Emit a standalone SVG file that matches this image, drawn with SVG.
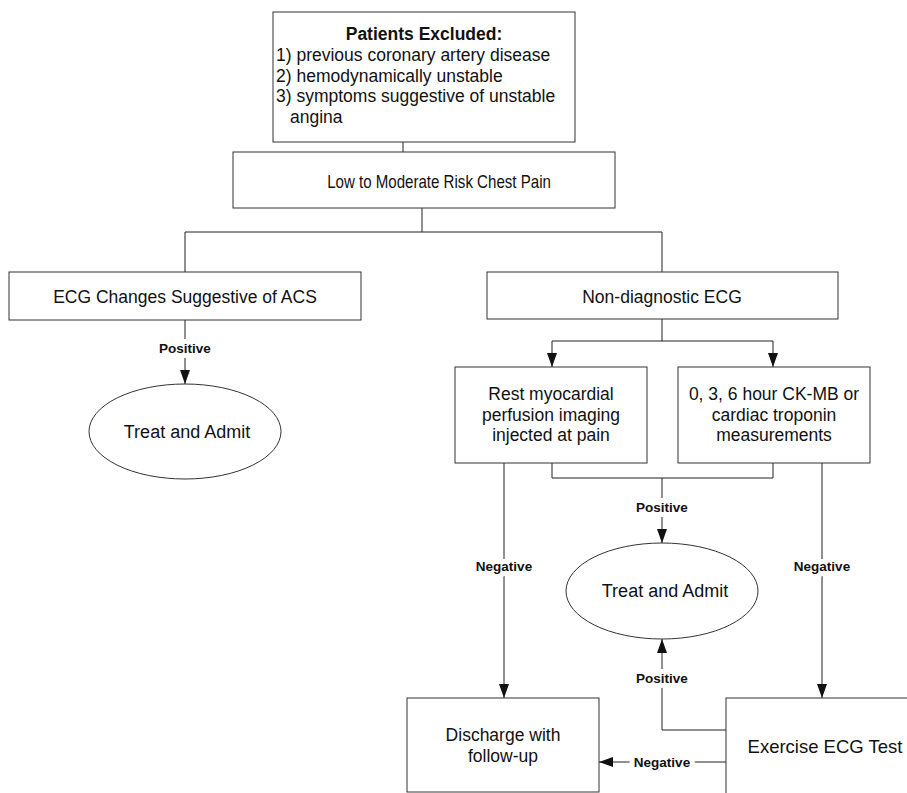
<svg xmlns="http://www.w3.org/2000/svg" width="907" height="793" viewBox="0 0 907 793">
<style>
.box{fill:#fff;stroke:#333;stroke-width:1}
.t{font-family:"Liberation Sans",Arial,sans-serif;font-size:17.5px;fill:#111;text-anchor:middle}
.l{text-anchor:start}
.lbl{font-family:"Liberation Sans",Arial,sans-serif;font-size:13.5px;font-weight:bold;fill:#111;text-anchor:middle;paint-order:stroke;stroke:#fff;stroke-width:10px;stroke-linejoin:round}
.c{fill:none;stroke:#222;stroke-width:1}
</style>
<defs>
<marker id="ah" viewBox="0 0 14 10" markerUnits="userSpaceOnUse" markerWidth="14" markerHeight="10" refX="14" refY="5" orient="auto">
<path d="M0,0 L14,5 L0,10 z" fill="#111"/>
</marker>
</defs>
<rect width="907" height="793" fill="#fff"/>
<g id="connectors">
<path class="c" d="M403,142 V152"/>
<path class="c" d="M422,208 V232"/>
<path class="c" d="M185,272 V232 H662 V272"/>
<path class="c" d="M185,320 V384" marker-end="url(#ah)"/>
<path class="c" d="M662,319 V341 H552 V367" marker-end="url(#ah)"/>
<path class="c" d="M662,341 H773 V367" marker-end="url(#ah)"/>
<path class="c" d="M552,463 V478 H773 V463"/>
<path class="c" d="M662,478 V543" marker-end="url(#ah)"/>
<path class="c" d="M504,463 V698" marker-end="url(#ah)"/>
<path class="c" d="M822,463 V698" marker-end="url(#ah)"/>
<path class="c" d="M726,730 H662 V639" marker-end="url(#ah)"/>
<path class="c" d="M726,762 H599" marker-end="url(#ah)"/>
<text class="lbl" x="185" y="353">Positive</text>
<text class="lbl" x="662" y="512">Positive</text>
<text class="lbl" x="504" y="571">Negative</text>
<text class="lbl" x="822" y="571">Negative</text>
<text class="lbl" x="662" y="683">Positive</text>
<text class="lbl" x="662" y="767">Negative</text>
</g>
<g id="excluded">
<rect class="box" x="273" y="12" width="302" height="130"/>
<text class="t" x="424" y="40" font-weight="bold">Patients Excluded:</text>
<text class="t l" x="276" y="61">1) previous coronary artery disease</text>
<text class="t l" x="276" y="81.5">2) hemodynamically unstable</text>
<text class="t l" x="276" y="102">3) symptoms suggestive of unstable</text>
<text class="t l" x="290" y="122.5">angina</text>
</g>
<g id="lowrisk">
<rect class="box" x="233" y="152" width="382" height="56"/>
<text class="t" x="0" y="0" transform="translate(439,188) scale(0.862,1)">Low to Moderate Risk Chest Pain</text>
</g>
<g id="ecgacs">
<rect class="box" x="9" y="272" width="352" height="48"/>
<text class="t" x="185" y="303">ECG Changes Suggestive of ACS</text>
</g>
<g id="nondiag">
<rect class="box" x="487" y="272" width="351" height="47"/>
<text class="t" x="662" y="303">Non-diagnostic ECG</text>
</g>
<g id="treat1">
<ellipse class="box" cx="185" cy="431.5" rx="96" ry="47.5"/>
<text class="t" x="187" y="438" style="font-size:18px">Treat and Admit</text>
</g>
<g id="rest">
<rect class="box" x="455" y="367" width="192" height="96"/>
<text class="t" x="551" y="400">Rest myocardial</text>
<text class="t" x="551" y="420.5">perfusion imaging</text>
<text class="t" x="551" y="441">injected at pain</text>
</g>
<g id="ckmb">
<rect class="box" x="678" y="367" width="192" height="96"/>
<text class="t" x="774" y="400">0, 3, 6 hour CK-MB or</text>
<text class="t" x="774" y="420.5">cardiac troponin</text>
<text class="t" x="774" y="441">measurements</text>
</g>
<g id="treat2">
<ellipse class="box" cx="662" cy="591" rx="96" ry="48"/>
<text class="t" x="665" y="597" style="font-size:18px">Treat and Admit</text>
</g>
<g id="discharge">
<rect class="box" x="407" y="698" width="192" height="94"/>
<text class="t" x="503" y="741">Discharge with</text>
<text class="t" x="503" y="761.5">follow-up</text>
</g>
<g id="exercise">
<rect class="box" x="726" y="698" width="200" height="110"/>
<text class="t" x="825" y="753" style="font-size:18.5px">Exercise ECG Test</text>
</g>
</svg>
